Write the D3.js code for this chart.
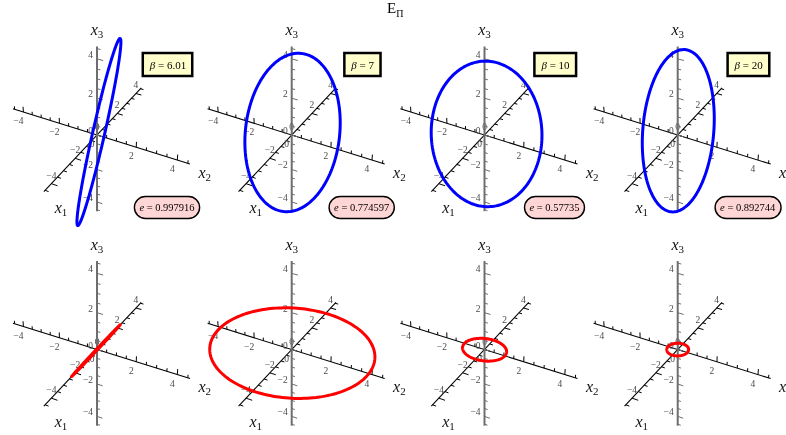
<!DOCTYPE html>
<html><head><meta charset="utf-8">
<script src="https://cdn.jsdelivr.net/npm/d3@7"></script>
<style>
body{margin:0;background:#fff;}
svg{display:block;will-change:transform;}
svg text{font-family:"Liberation Serif","Times New Roman",serif;}
</style></head><body>
<svg id="chart" width="786" height="435"></svg>
<script>
// ---------- data ----------
const betaLabels = ["6.01", "7", "10", "20"];
const eValues = ["0.997916", "0.774597", "0.57735", "0.892744"];
const majorTicks = [-4, -2, 0, 2, 4];
const minorTicks = [-4.5, -3.5, -3, -2.5, -1.5, -1, -0.5, 0.5, 1, 1.5, 2.5, 3, 3.5, 4.5];
const axisExtent = [-4.6, 4.6];
const axisNames = ["1", "2", "3"];
// top row (blue) ellipses: center, semi-axis vectors in (x1,x2,x3)
const topCenters = [[0.11, 0.04, 0.11], [0.08, 0.00, 0.09], [0.07, 0.07, 0.04], [0.11, -0.03, 0.16]];
const topAxisA = [[2.64, -0.34, 3.48], [1.84, -0.99, 2.93], [1.70, -0.91, 2.71], [1.88, -1.01, 2.99]];
const topAxisB = [[0.10, 0.25, -0.05], [1.25, 1.80, 0.33], [1.16, 2.25, -0.08], [1.05, 1.30, 0.42]];
// bottom row (red) ellipses
const bottomCenters = [[0, 0, 0], [0, 0, 0], [0, 0, 0], [0, 0, 0]];
const bottomAxisA = [[2.3, 0, 0], [3.45, 0, 0], [0.85, 0, 0], [0.5, 0, 0]];
const bottomAxisB = [[0, 0.1, 0.1], [0, 3.85, 0], [0, 1.05, 0], [0, 0.5, 0]];

// ---------- projection ----------
const colX = [97, 291.7, 484.5, 677.7];
const rowY = [135, 349.5];
const scrX = [d3.scaleLinear().domain([0, 1]).range([0, 10.5]),
              d3.scaleLinear().domain([0, 1]).range([0, 19.2]),
              d3.scaleLinear().domain([0, 1]).range([0, 0])];
const scrY = [d3.scaleLinear().domain([0, 1]).range([0, -11.2]),
              d3.scaleLinear().domain([0, 1]).range([0, 6.0]),
              d3.scaleLinear().domain([0, 1]).range([0, -17.8])];
const depthDir = [-0.714, 0.392, 0.583];
const camDist = 36;
function project(p, o) {
  const d = p[0] * depthDir[0] + p[1] * depthDir[1] + p[2] * depthDir[2];
  const k = camDist / (camDist - d);
  const x = scrX[0](p[0]) + scrX[1](p[1]) + scrX[2](p[2]);
  const y = scrY[0](p[0]) + scrY[1](p[1]) + scrY[2](p[2]);
  return [o[0] + k * x, o[1] + k * y];
}
function axisPoint(axis, v) { const p = [0, 0, 0]; p[axis] = v; return p; }

const svg = d3.select("#chart");

// title
const title = svg.append("text").attr("x", 387).attr("y", 13).attr("font-size", 15).attr("fill", "#000");
title.append("tspan").text("E");
title.append("tspan").attr("font-size", 10).attr("dy", 4).text("Π");

const tickDir = [[0, 1, 0], [0, 0, 1], [0, 1, 0]];
const axisColor = ["#000", "#000", "#6e6e6e"];
const axisWidth = [1.1, 1.1, 2];
const fmt = v => (v < 0 ? "\u2212" + Math.abs(v) : String(v));

function drawAxes(g, o) {
  for (let a = 0; a < 3; a++) {
    const p0 = project(axisPoint(a, axisExtent[0]), o);
    const p1 = project(axisPoint(a, axisExtent[1]), o);
    g.append("line").attr("x1", p0[0]).attr("y1", p0[1]).attr("x2", p1[0]).attr("y2", p1[1])
      .attr("stroke", axisColor[a]).attr("stroke-width", axisWidth[a]);
    const ticks = majorTicks.map(v => [v, 0.3]).concat(minorTicks.map(v => [v, 0.17]));
    ticks.forEach(([v, len]) => {
      const base = axisPoint(a, v);
      const tip = base.slice(); tip[0] += tickDir[a][0] * len; tip[1] += tickDir[a][1] * len; tip[2] += tickDir[a][2] * len;
      const q0 = project(base, o), q1 = project(tip, o);
      g.append("line").attr("x1", q0[0]).attr("y1", q0[1]).attr("x2", q1[0]).attr("y2", q1[1])
        .attr("stroke", a === 2 ? "#6e6e6e" : "#000").attr("stroke-width", 1);
    });
    majorTicks.forEach(v => {
      const q = project(axisPoint(a, v), o);
      const t = g.append("text").attr("font-size", 9.5).attr("fill", "#4a4a4a").text(fmt(v));
      if (a === 0) t.attr("x", q[0]).attr("y", q[1] - 5).attr("text-anchor", "middle");
      if (a === 1) t.attr("x", q[0] - 5).attr("y", q[1] + 12).attr("text-anchor", "middle");
      if (a === 2) t.attr("x", q[0] - 4).attr("y", q[1] - 1).attr("text-anchor", "end");
    });
  }
  // axis labels
  const lab = [[o[0] - 36, o[1] + 77.5], [o[0] + 107.7, o[1] + 42.5], [o[0], o[1] - 100]];
  lab.forEach((pos, i) => {
    const t = g.append("text").attr("x", pos[0]).attr("y", pos[1]).attr("text-anchor", "middle")
      .attr("font-size", 16).attr("fill", "#111");
    t.append("tspan").attr("font-style", "italic").text("x");
    t.append("tspan").attr("font-size", 11).attr("dy", 3).text(axisNames[i]);
  });
}

const angles = d3.range(0, 360, 2);
const line = d3.line().curve(d3.curveLinearClosed);
function drawEllipse(g, o, c, A, B, color) {
  const pts = angles.map(deg => {
    const t = deg * Math.PI / 180, ct = Math.cos(t), st = Math.sin(t);
    return project([c[0] + A[0] * ct + B[0] * st, c[1] + A[1] * ct + B[1] * st, c[2] + A[2] * ct + B[2] * st], o);
  });
  g.append("path").attr("d", line(pts)).attr("fill", "none").attr("stroke", color).attr("stroke-width", 3);
}

for (let r = 0; r < 2; r++) {
  for (let i = 0; i < 4; i++) {
    const o = [colX[i], rowY[r]];
    const g = svg.append("g");
    drawAxes(g, o);
    if (r === 0) drawEllipse(g, o, topCenters[i], topAxisA[i], topAxisB[i], "#0000ff");
    else drawEllipse(g, o, bottomCenters[i], bottomAxisA[i], bottomAxisB[i], "#ff0000");
    if (r === 0) {
      // beta box
      const bg = g.append("g");
      const bt = bg.append("text").attr("x", o[0] + 71).attr("y", o[1] - 66.5).attr("text-anchor", "middle").attr("font-size", 11).attr("fill", "#000");
      bt.append("tspan").attr("font-style", "italic").text("β");
      bt.append("tspan").text(" = " + betaLabels[i]);
      const bb = bt.node().getBBox();
      bg.insert("rect", "text").attr("x", bb.x - 6).attr("y", o[1] - 82).attr("width", bb.width + 12).attr("height", 23)
        .attr("fill", "#ffffcc").attr("stroke", "#000").attr("stroke-width", 2.5);
      // e label
      const eg = g.append("g");
      const et = eg.append("text").attr("x", o[0] + 70).attr("y", o[1] + 76).attr("text-anchor", "middle").attr("font-size", 10.5).attr("fill", "#000");
      et.append("tspan").attr("font-style", "italic").text("e");
      et.append("tspan").text(" = " + eValues[i]);
      const eb = et.node().getBBox();
      eg.insert("rect", "text").attr("x", eb.x - 5).attr("y", o[1] + 61.5).attr("width", eb.width + 10).attr("height", 22)
        .attr("rx", 11).attr("ry", 11).attr("fill", "#ffd6d6").attr("stroke", "#000").attr("stroke-width", 1.4);
    }
  }
}
</script></body></html>
